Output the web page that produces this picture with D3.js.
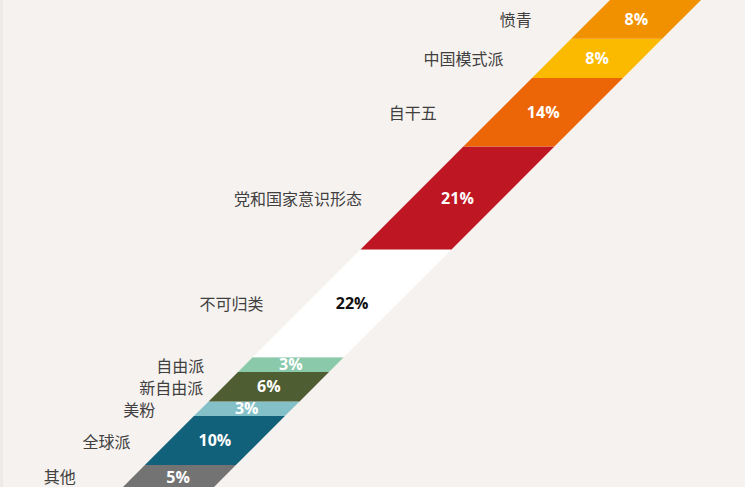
<!DOCTYPE html>
<html>
<head>
<meta charset="utf-8">
<script src="https://cdn.jsdelivr.net/npm/d3@7"></script>
<style>
  html, body { margin: 0; padding: 0; background: #f6f2ef; }
  svg { display: block; }
  .cat-label { font-family: "Noto Sans CJK SC", sans-serif; font-size: 16px; fill: #404040; }
  .pct-label { font-family: "Open Sans", "Noto Sans", sans-serif; font-size: 16px; font-weight: 700; }
</style>
</head>
<body>
<svg id="chart" width="745" height="487"></svg>
<script>
// bottom to top
const categories = ["其他", "全球派", "美粉", "新自由派", "自由派", "不可归类", "党和国家意识形态", "自干五", "中国模式派", "愤青"];
const shares = [5, 10, 3, 6, 3, 22, 21, 14, 8, 8];
const colors = ["#737373", "#12617a", "#84c0c8", "#4f5e32", "#8ac9aa", "#ffffff", "#be1622", "#ec6608", "#fbb900", "#f29100"];
// hand-placed label offsets (px left of the band)
const labelGap = [57, 39, 46, 20, 41, 43, 50, 61, 48, 59];

const svg = d3.select("#chart"),
  width = 745,
  height = 487,
  bandWidth = 91;

svg.append("rect").attr("width", width).attr("height", height).attr("fill", "#f6f2ef");
svg.append("rect").attr("width", 3).attr("height", height).attr("fill", "#eeeae7");

let y = d3.scaleLinear().domain([0, 100]).range([489.6, -0.4]);
// left edge of the band slides 1px right for every px up
let slant = d3.scaleLinear().domain([0, 487]).range([610, 123]);

let cum = 0;
const segs = categories.map((c, i) => {
  let s = { label: c, value: shares[i], color: colors[i], gap: labelGap[i], from: cum, to: cum + shares[i] };
  cum += shares[i];
  return s;
});

let g = svg.append("g");

let seg = g.selectAll(".seg")
  .data(segs)
  .enter()
  .append("g")
  .attr("class", "seg");

seg.append("path")
  .attr("fill", d => d.color)
  .attr("d", d => {
    let y0 = y(d.from), y1 = y(d.to);
    return `M${slant(y0)},${y0}L${slant(y0) + bandWidth},${y0}L${slant(y1) + bandWidth},${y1}L${slant(y1)},${y1}Z`;
  });

seg.append("text")
  .attr("class", "pct-label")
  .attr("text-anchor", "middle")
  .attr("dominant-baseline", "central")
  .attr("x", d => slant(y((d.from + d.to) / 2)) + bandWidth / 2)
  .attr("y", d => y((d.from + d.to) / 2) - 0.5)
  .attr("fill", d => d.color === "#ffffff" ? "#111" : "#fff")
  .text(d => d.value + "%");

seg.append("text")
  .attr("class", "cat-label")
  .attr("text-anchor", "end")
  .attr("dominant-baseline", "central")
  .attr("x", d => slant(y((d.from + d.to) / 2)) - d.gap)
  .attr("y", d => Math.min(y((d.from + d.to) / 2), 476))
  .text(d => d.label);
</script>
</body>
</html>
